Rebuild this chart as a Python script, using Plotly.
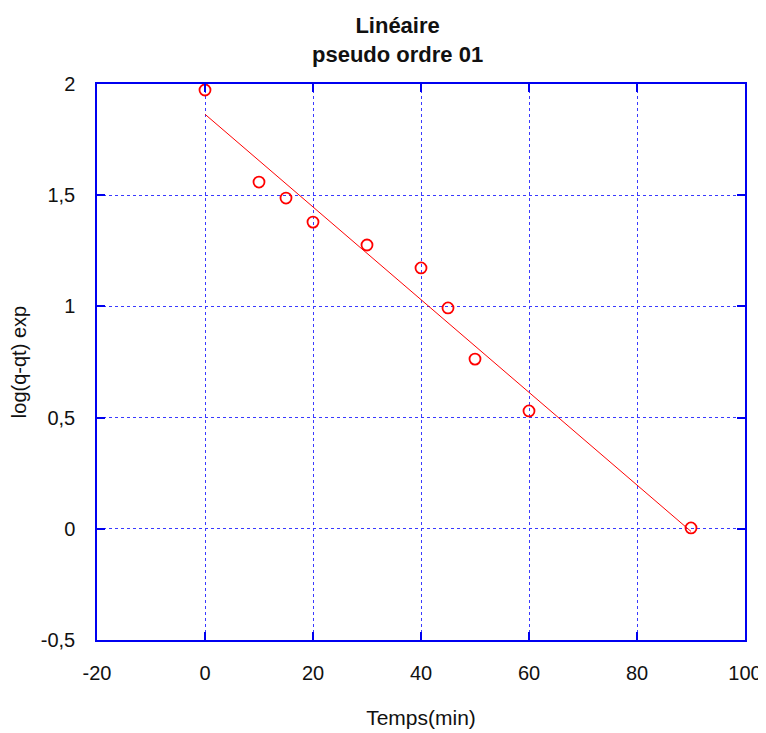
import numpy as np
import plotly.graph_objects as go

# Data
temps = [0, 10, 15, 20, 30, 40, 45, 50, 60, 90]
log_q_qt = [1.973, 1.559, 1.487, 1.379, 1.276, 1.173, 0.993, 0.763, 0.530, 0.004]

x_ticks = [-20, 0, 20, 40, 60, 80, 100]
x_tick_labels = ["-20", "0", "20", "40", "60", "80", "100"]
y_ticks = [-0.5, 0, 0.5, 1, 1.5, 2]
y_tick_labels = ["-0,5", "0", "0,5", "1", "1,5", "2"]

# Linear regression line over the data span
slope, intercept = np.polyfit(temps, log_q_qt, 1)
fit_x = [min(temps), max(temps)]
fit_y = [slope * v + intercept for v in fit_x]

BLUE = "#0000F0"
GRID = "#3A3AFF"
RED = "#FF0000"
FONT = "Liberation Sans, Arial, sans-serif"
TXT = "#111111"

fig = go.Figure()
fig.add_trace(go.Scatter(
    x=fit_x, y=fit_y, mode="lines",
    line=dict(color=RED, width=1),
    showlegend=False, hoverinfo="skip",
))
fig.add_trace(go.Scatter(
    x=temps, y=log_q_qt, mode="markers",
    marker=dict(symbol="circle-open", size=11, color=RED, line=dict(width=1.8, color=RED)),
    showlegend=False, cliponaxis=False,
))

axis_common = dict(
    showline=True, mirror="allticks", linecolor=BLUE, linewidth=1.5,
    ticks="inside", ticklen=8, tickcolor=BLUE, tickwidth=1.5,
    showgrid=True, gridcolor=GRID, gridwidth=1.2, griddash="dot",
    zeroline=False, automargin=False,
    tickfont=dict(family=FONT, size=20, color=TXT),
)

fig.update_layout(
    width=758, height=725,
    paper_bgcolor="white", plot_bgcolor="white",
    margin=dict(l=89, r=21, t=76, b=93),
    xaxis=dict(
        range=[-20, 100], tickvals=x_ticks, ticktext=x_tick_labels,
        title=dict(text="Temps(min)", font=dict(family=FONT, size=21, color=TXT), standoff=28),
        ticklabelstandoff=14,
        **axis_common,
    ),
    yaxis=dict(
        range=[-0.5, 2], tickvals=y_ticks, ticktext=y_tick_labels,
        title=dict(text="log(q-qt) exp", font=dict(family=FONT, size=20, color=TXT), standoff=14),
        ticklabelstandoff=16,
        **axis_common,
    ),
    annotations=[dict(
        text="<b>Linéaire<br>pseudo ordre 01</b>",
        xref="paper", yref="paper", x=0.463, y=1 + 44 / 556,
        xanchor="center", yanchor="middle", showarrow=False,
        font=dict(family=FONT, size=22, color=TXT),
    )],
)

fig.write_html("out.html")
